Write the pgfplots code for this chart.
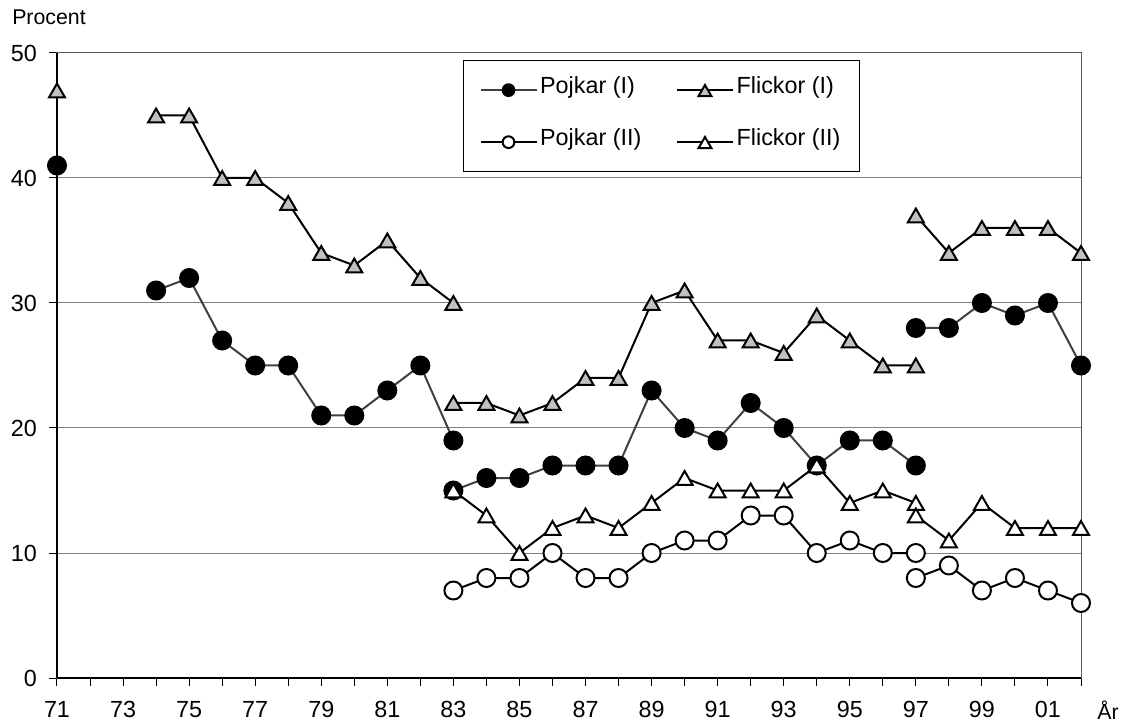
\documentclass[border=0pt]{standalone}
\usepackage{pgfplots}
\pgfplotsset{compat=1.18}
\usepackage{fontspec}
\setmainfont{Liberation Sans}
\definecolor{silv}{HTML}{C0C0C0}
\definecolor{dgray}{HTML}{404040}
\pgfplotsset{
  circleg/.style={legend image code/.code={\draw[##1, mark=none] (0pt,0pt) -- (42pt,0pt);
    \path[##1, mark size=4.4pt] plot coordinates {(21pt,0pt)};}},
  trileg/.style={legend image code/.code={\draw[##1, mark=none] (0pt,0pt) -- (42pt,0pt);
    \path[##1, mark size=5.6pt] plot coordinates {(21pt,0pt)};}},
}
\begin{document}
\begin{tikzpicture}
\begin{axis}[
  scale only axis, width=768pt, height=468.75pt,
  at={(0pt,0pt)}, anchor=south west,
  xmin=71, xmax=102, ymin=0, ymax=50,
  clip=false,
  unbounded coords=jump,
  xtick={71,73,...,101},
  xticklabels={71,73,75,77,79,81,83,85,87,89,91,93,95,97,99,01},
  minor xtick={72,74,...,102},
  ytick={0,10,...,50},
  xtick pos=bottom, ytick pos=left,
  tick align=outside,
  major tick length=6pt, minor tick length=6pt,
  tick style={black, line width=0.75pt},
  ymajorgrids,
  grid style={draw=gray, line width=0.75pt},
  axis line style={draw=gray!70!black, line width=0.75pt},
  /pgf/number format/assume math mode=true,
  tick label style={font=\fontsize{17.5}{20}\selectfont, inner sep=0pt},
  xticklabel style={anchor=north, yshift=-11.5pt},
  yticklabel style={anchor=east, xshift=-9pt},
  legend columns=2,
  legend cell align=left,
  legend style={at={(0.3965,0.9888)}, anchor=north west,
    draw=black, line width=0.75pt, inner xsep=12pt, inner ysep=14.5pt,
    font=\fontsize{17.5}{20}\selectfont,
    nodes={inner sep=0pt, inner xsep=2pt, text height=10.5pt, text depth=5pt},
    row sep=23.5pt,
    /tikz/every even column/.append style={column sep=24pt}},
]
\draw[black, line width=1.2pt] (rel axis cs:0,0) -- (rel axis cs:0,1);
\draw[black, line width=1.6pt] (rel axis cs:0,0) -- (rel axis cs:1,0);

\addplot[dgray, line width=1.5pt, mark=*, mark size=6.75pt,
  mark options={draw=black, fill=black, line width=1.5pt}, circleg] table {
x y
71 41
72 nan
74 31
75 32
76 27
77 25
78 25
79 21
80 21
81 23
82 25
83 19
83 nan
83 15
84 16
85 16
86 17
87 17
88 17
89 23
90 20
91 19
92 22
93 20
94 17
95 19
96 19
97 17
97 nan
97 28
98 28
99 30
100 29
101 30
102 25
};
\addlegendentry{Pojkar (I)}

\addplot[black, line width=1.5pt, mark=triangle*, mark size=6.9pt,
  mark options={draw=black, fill=silv, line width=1.5pt, yshift=-1.7pt}, trileg] table {
x y
71 47
72 nan
74 45
75 45
76 40
77 40
78 38
79 34
80 33
81 35
82 32
83 30
83 nan
83 22
84 22
85 21
86 22
87 24
88 24
89 30
90 31
91 27
92 27
93 26
94 29
95 27
96 25
97 25
97 nan
97 37
98 34
99 36
100 36
101 36
102 34
};
\addlegendentry{Flickor (I)}

\addplot[black, line width=1.5pt, mark=*, mark size=6.75pt,
  mark options={draw=black, fill=white, line width=1.5pt}, circleg] table {
x y
83 7
84 8
85 8
86 10
87 8
88 8
89 10
90 11
91 11
92 13
93 13
94 10
95 11
96 10
97 10
97 nan
97 8
98 9
99 7
100 8
101 7
102 6
};
\addlegendentry{Pojkar (II)}

\addplot[black, line width=1.5pt, mark=triangle*, mark size=6.9pt,
  mark options={draw=black, fill=white, line width=1.5pt, yshift=-1.7pt}, trileg] table {
x y
83 15
84 13
85 10
86 12
87 13
88 12
89 14
90 16
91 15
92 15
93 15
94 17
95 14
96 15
97 14
97 nan
97 13
98 11
99 14
100 12
101 12
102 12
};
\addlegendentry{Flickor (II)}
\end{axis}
\node[anchor=base west, inner sep=0pt, font=\fontsize{16}{18}\selectfont] at (-33.75pt,489.75pt) {Procent};
\node[anchor=base west, inner sep=0pt, font=\fontsize{16}{18}\selectfont] at (780pt,-30.75pt) {År};
\pgfresetboundingbox
\useasboundingbox (-42.75pt,-33pt) rectangle (798.75pt,508.5pt);
\end{tikzpicture}
\end{document}
